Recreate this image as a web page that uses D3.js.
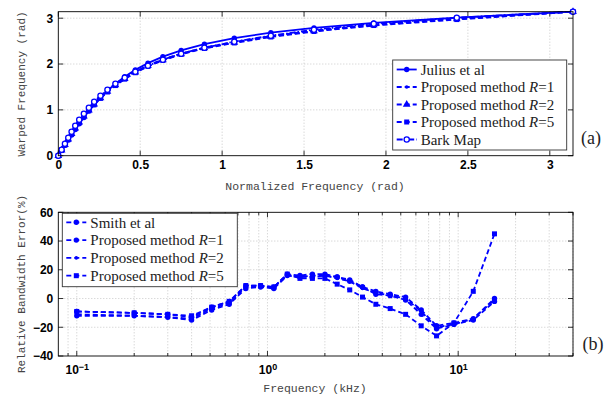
<!DOCTYPE html>
<html>
<head>
<meta charset="utf-8">
<script src="https://cdn.jsdelivr.net/npm/d3@7"></script>
<style>
  body { margin: 0; background: #fff; }
  .tick text { font-family: "Liberation Sans", Arial, sans-serif; font-weight: bold; font-size: 12px; fill: #000; }
  .axlabel { font-family: "Liberation Mono", "DejaVu Sans Mono", monospace; font-size: 11px; fill: #444; }
  .leg { font-family: "Liberation Serif", "DejaVu Serif", serif; font-size: 15px; fill: #222; }
  .panel { font-family: "Liberation Serif", "DejaVu Serif", serif; font-size: 18px; fill: #222; }
</style>
</head>
<body>
<div id="chart-container"></div>
<script>
// top panel: warping functions, x/y in rad
var warpX = [0, 0.0203, 0.0405, 0.0608, 0.0811, 0.1034, 0.1277, 0.1561, 0.1865, 0.2189, 0.2574, 0.3000,
    0.3486, 0.4054, 0.4702, 0.5472, 0.6384, 0.7499, 0.8918, 1.0742, 1.2972, 1.5606, 1.9255, 2.4322, 3.1416]
var julius = [0, 0.115, 0.229, 0.342, 0.452, 0.570, 0.695, 0.835, 0.975, 1.114, 1.265, 1.417,
    1.569, 1.723, 1.872, 2.019, 2.161, 2.298, 2.434, 2.565, 2.685, 2.789, 2.898, 3.012, 3.142]
var warpR1 = [0, 0.12, 0.24, 0.36, 0.48, 0.61, 0.74, 0.87, 1.00, 1.13, 1.27, 1.41,
    1.55, 1.69, 1.83, 1.97, 2.10, 2.23, 2.36, 2.48, 2.61, 2.73, 2.86, 2.99, 3.142]
var warpR2 = [0, 0.12, 0.24, 0.36, 0.48, 0.60, 0.73, 0.86, 0.99, 1.12, 1.26, 1.40,
    1.54, 1.68, 1.82, 1.96, 2.09, 2.22, 2.35, 2.47, 2.60, 2.72, 2.85, 2.98, 3.142]
var warpR5 = [0, 0.12, 0.23, 0.35, 0.47, 0.59, 0.72, 0.85, 0.98, 1.11, 1.25, 1.39,
    1.53, 1.67, 1.81, 1.95, 2.08, 2.21, 2.34, 2.46, 2.59, 2.71, 2.84, 2.97, 3.142]
var barkMap = [0, 0.131, 0.262, 0.393, 0.524, 0.654, 0.785, 0.916, 1.047, 1.178, 1.309, 1.440,
    1.571, 1.702, 1.833, 1.963, 2.094, 2.225, 2.356, 2.487, 2.618, 2.749, 2.880, 3.011, 3.142]
var topLabels = ['Julius et al', 'Proposed method R=1', 'Proposed method R=2', 'Proposed method R=5', 'Bark Map']
var topXTicks = [0, 0.5, 1, 1.5, 2, 2.5, 3]
var topYTicks = [0, 1, 2, 3]

// bottom panel: relative bandwidth error (%) vs frequency (kHz)
var freqKHz = [0.1, 0.2, 0.3, 0.4, 0.51, 0.63, 0.77, 0.92, 1.08, 1.27, 1.48, 1.72,
    2.0, 2.32, 2.7, 3.15, 3.7, 4.4, 5.3, 6.4, 7.7, 9.5, 12, 15.5]
var smith = [-9, -10, -11, -13, -6, -2, 9, 9, 8, 17, 16, 17, 17, 15, 13, 8, 5, 3, 1, -8, -19, -17, -14, 0]
var errR1 = [-12, -12, -13, -15, -8, -4, 7, 8, 7, 16, 15, 15, 16, 15, 12, 8, 3, 2, -1, -11, -21, -18, -15, -2]
var errR2 = [-11, -12, -13, -14, -7, -3, 8, 8, 8, 16, 15, 16, 16, 14, 12, 7, 4, 2, 0, -9, -20, -18, -14, -1]
var errR5 = [-9, -10, -11, -12, -6, -2, 9, 9, 8, 17, 14, 14, 14, 10, 6, 1, -4, -7, -11, -19, -26, -17, 5, 45]
var botLabels = ['Smith et al', 'Proposed method R=1', 'Proposed method R=2', 'Proposed method R=5']
var botYTicks = [-40, -20, 0, 20, 40, 60]
var botXMajor = [0.1, 1, 10]
var botXExp = ['−1', '0', '1']
var botXMinor = [0.09, 0.2, 0.3, 0.4, 0.5, 0.6, 0.7, 0.8, 0.9, 2, 3, 4, 5, 6, 7, 8, 9, 20, 30, 40]

var blue = '#0000ff'
var width = 615, height = 398

var svg = d3.select('#chart-container').append('svg')
    .attr('width', width).attr('height', height)

function drawMarker(g, type, x, y) {
    if (type == 'dot') {
        g.append('circle').attr('cx', x).attr('cy', y).attr('r', 2.7).attr('fill', blue)
    } else if (type == 'small') {
        g.append('circle').attr('cx', x).attr('cy', y).attr('r', 1.8).attr('fill', blue)
    } else if (type == 'open') {
        g.append('circle').attr('cx', x).attr('cy', y).attr('r', 2.6)
            .attr('fill', '#fff').attr('stroke', blue).attr('stroke-width', 1.3)
    } else if (type == 'tri') {
        g.append('path').attr('d', d3.symbol(d3.symbolTriangle, 26)())
            .attr('transform', `translate(${x},${y})`).attr('fill', blue)
    } else if (type == 'square') {
        g.append('rect').attr('x', x - 2.5).attr('y', y - 2.5).attr('width', 5).attr('height', 5).attr('fill', blue)
    }
}

function legendText(t, label) {
    let m = label.match(/^(.*)R=(\d)$/)
    if (m) {
        t.append('tspan').text(m[1])
        t.append('tspan').attr('font-style', 'italic').text('R')
        t.append('tspan').text('=' + m[2])
    } else {
        t.text(label)
    }
}

function drawPanel(cfg) {
    let x = cfg.x, y = cfg.y
    let [x0, x1] = x.range(), [y1, y0] = y.range()
    let g = svg.append('g')

    g.append('rect').attr('x', x0).attr('y', y0).attr('width', x1 - x0).attr('height', y1 - y0).attr('fill', '#fff')

    // grid
    g.append('g').selectAll('line').data(cfg.xGrid).join('line')
        .attr('x1', d => x(d)).attr('x2', d => x(d)).attr('y1', y0).attr('y2', y1)
        .attr('stroke', '#bbb').attr('stroke-width', 0.8).attr('stroke-dasharray', '1,2')
    g.append('g').selectAll('line').data(cfg.yGrid).join('line')
        .attr('y1', d => y(d)).attr('y2', d => y(d)).attr('x1', x0).attr('x2', x1)
        .attr('stroke', '#bbb').attr('stroke-width', 0.8).attr('stroke-dasharray', '1,2')

    // inward ticks on all sides
    let tk = g.append('g').attr('stroke', '#000').attr('stroke-width', 0.8)
    cfg.xTicks.forEach(d => {
        tk.append('line').attr('x1', x(d)).attr('x2', x(d)).attr('y1', y1).attr('y2', y1 - 5)
        tk.append('line').attr('x1', x(d)).attr('x2', x(d)).attr('y1', y0).attr('y2', y0 + 5)
    });
    (cfg.xMinor || []).forEach(d => {
        tk.append('line').attr('x1', x(d)).attr('x2', x(d)).attr('y1', y1).attr('y2', y1 - 3)
        tk.append('line').attr('x1', x(d)).attr('x2', x(d)).attr('y1', y0).attr('y2', y0 + 3)
    })
    cfg.yTicks.forEach(d => {
        tk.append('line').attr('y1', y(d)).attr('y2', y(d)).attr('x1', x0).attr('x2', x0 + 5)
        tk.append('line').attr('y1', y(d)).attr('y2', y(d)).attr('x1', x1).attr('x2', x1 - 5)
    })

    // tick labels through d3 axes
    g.append('g').attr('transform', `translate(0,${y1})`)
        .call(cfg.xAxis)
        .call(a => a.select('.domain').remove())
        .call(a => a.selectAll('.tick line').remove())
    g.append('g').attr('transform', `translate(${x0},0)`)
        .call(d3.axisLeft(y).tickValues(cfg.yTicks).tickFormat(d => d < 0 ? '−' + (-d) : d).tickSize(0).tickPadding(5))
        .call(a => a.select('.domain').remove())

    // series
    cfg.series.forEach(s => {
        let pts = cfg.xs.map((v, i) => [x(v), y(s.values[i])])
        g.append('path').attr('d', d3.line()(pts)).attr('fill', 'none')
            .attr('stroke', blue).attr('stroke-width', 1.8)
            .attr('stroke-dasharray', s.dash)
        let mg = g.append('g')
        pts.forEach(p => drawMarker(mg, s.marker, p[0], p[1]))
    })

    g.append('rect').attr('x', x0).attr('y', y0).attr('width', x1 - x0).attr('height', y1 - y0)
        .attr('fill', 'none').attr('stroke', '#000').attr('stroke-width', 0.9)

    // legend
    let L = cfg.legend
    let lg = g.append('g')
    lg.append('rect').attr('x', L.x).attr('y', L.y).attr('width', L.w).attr('height', L.h)
        .attr('fill', '#fff').attr('stroke', '#333').attr('stroke-width', 0.9)
    cfg.series.forEach((s, i) => {
        let cy = L.y + L.first + i * L.step
        lg.append('line').attr('x1', L.x + 4).attr('x2', L.x + 24).attr('y1', cy).attr('y2', cy)
            .attr('stroke', blue).attr('stroke-width', 1.8).attr('stroke-dasharray', s.dash)
        drawMarker(lg, s.marker, L.x + 14, cy)
        let t = lg.append('text').attr('class', 'leg').attr('x', L.x + 28).attr('y', cy).attr('dy', '0.35em')
        legendText(t, s.label)
    })
}

let dashed = '5,3', dashDot = '6,2,1.5,2'

// (a)
let xA = d3.scaleLinear().domain([0, Math.PI]).range([58.3, 573])
let yA = d3.scaleLinear().domain([0, Math.PI]).range([155.7, 11.7])
drawPanel({
    x: xA, y: yA, xs: warpX,
    xGrid: topXTicks.slice(1), yGrid: topYTicks.slice(1),
    xTicks: topXTicks, yTicks: topYTicks,
    xAxis: d3.axisBottom(xA).tickValues(topXTicks).tickFormat(d => d).tickSize(0).tickPadding(5),
    series: [
        {label: topLabels[0], values: julius, dash: null, marker: 'dot'},
        {label: topLabels[1], values: warpR1, dash: dashed, marker: 'small'},
        {label: topLabels[2], values: warpR2, dash: dashed, marker: 'tri'},
        {label: topLabels[3], values: warpR5, dash: dashed, marker: 'square'},
        {label: topLabels[4], values: barkMap, dash: dashDot, marker: 'open'}
    ],
    legend: {x: 392.7, y: 60, w: 174, h: 90, first: 9.5, step: 17.5}
})

// (b)
let xB = d3.scaleLog().domain([0.08, 40]).range([58.3, 573])
let yB = d3.scaleLinear().domain([-40, 60]).range([356, 212.3])
let xAxisB = d3.axisBottom(xB).tickValues(botXMajor).tickFormat('').tickSize(0).tickPadding(5)
drawPanel({
    x: xB, y: yB, xs: freqKHz,
    xGrid: botXMajor.concat(botXMinor), yGrid: botYTicks.slice(1, -1),
    xTicks: botXMajor, xMinor: botXMinor, yTicks: botYTicks,
    xAxis: g => {
        g.call(xAxisB)
        g.selectAll('.tick text').each(function(d, i) {
            let t = d3.select(this)
            t.append('tspan').text('10')
            t.append('tspan').attr('dy', '-0.45em').attr('font-size', '9px').text(botXExp[i])
        })
        g.selectAll('.tick text').attr('dy', '1.05em')
    },
    series: [
        {label: botLabels[0], values: smith, dash: dashed, marker: 'dot'},
        {label: botLabels[1], values: errR1, dash: dashed, marker: 'dot'},
        {label: botLabels[2], values: errR2, dash: dashed, marker: 'small'},
        {label: botLabels[3], values: errR5, dash: dashed, marker: 'square'}
    ],
    legend: {x: 62.3, y: 213.3, w: 175, h: 73.4, first: 9, step: 17.8}
})

// axis labels
svg.append('text').attr('class', 'axlabel').attr('x', 315).attr('y', 190).attr('text-anchor', 'middle')
    .style('font-size', '11.5px').text('Normalized Frequency (rad)')
svg.append('text').attr('class', 'axlabel').attr('transform', 'translate(25,84) rotate(-90)')
    .attr('text-anchor', 'middle').text('Warped Frequency (rad)')
svg.append('text').attr('class', 'axlabel').attr('x', 315).attr('y', 392).attr('text-anchor', 'middle')
    .style('font-size', '11.5px').text('Frequency (kHz)')
svg.append('text').attr('class', 'axlabel').attr('transform', 'translate(25,284) rotate(-90)')
    .attr('text-anchor', 'middle').text('Relative Bandwidth Error(%)')

svg.append('text').attr('class', 'panel').attr('x', 591).attr('y', 138).attr('dy', '0.35em')
    .attr('text-anchor', 'middle').text('(a)')
svg.append('text').attr('class', 'panel').attr('x', 593).attr('y', 344).attr('dy', '0.35em')
    .attr('text-anchor', 'middle').text('(b)')
</script>
</body>
</html>
